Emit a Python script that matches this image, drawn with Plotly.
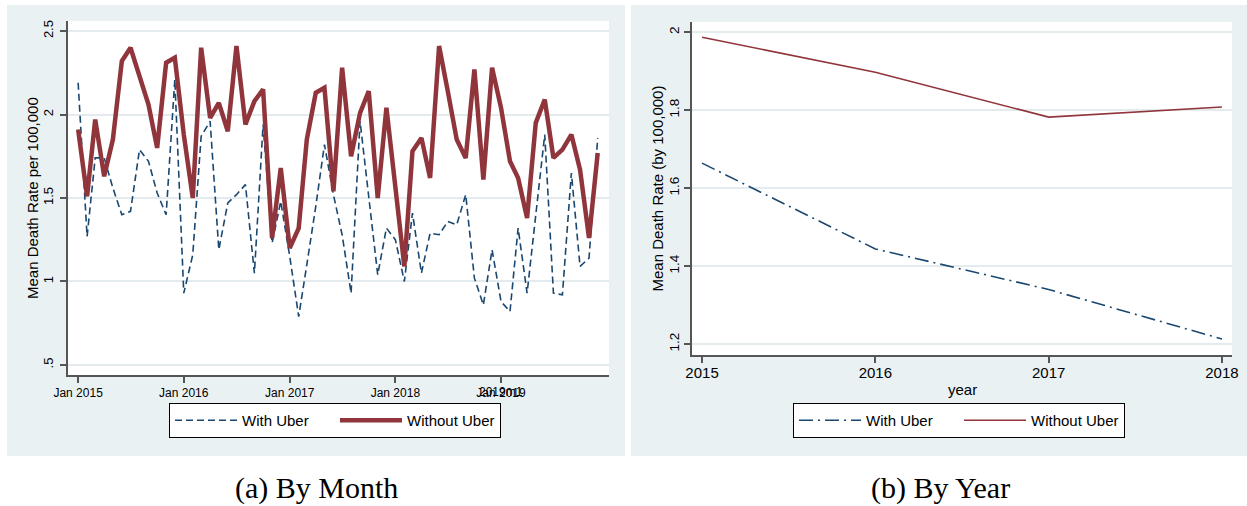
import plotly.graph_objects as go
import pandas as pd

# ---- monthly series (Jan 2015 - Dec 2019) ----
months = pd.date_range("2015-01-01", periods=60, freq="MS")
with_uber_month = [
    2.19, 1.27, 1.74, 1.74, 1.56, 1.40, 1.42, 1.79, 1.72, 1.53, 1.40, 2.21,
    0.93, 1.16, 1.87, 1.96, 1.19, 1.47, 1.52, 1.58, 1.05, 1.94, 1.23, 1.48,
    1.15, 0.79, 1.10, 1.45, 1.82, 1.52, 1.28, 0.93, 1.96, 1.51, 1.04, 1.32,
    1.25, 1.00, 1.41, 1.05, 1.29, 1.28, 1.36, 1.34, 1.52, 1.02, 0.86, 1.19,
    0.88, 0.82, 1.32, 0.93, 1.40, 1.88, 0.93, 0.92, 1.65, 1.09, 1.14, 1.86,
]
without_uber_month = [
    1.91, 1.51, 1.97, 1.63, 1.85, 2.32, 2.40, 2.22, 2.06, 1.80, 2.31, 2.34,
    1.88, 1.50, 2.40, 1.98, 2.07, 1.90, 2.41, 1.94, 2.08, 2.15, 1.26, 1.68,
    1.20, 1.32, 1.85, 2.13, 2.16, 1.54, 2.28, 1.75, 2.01, 2.14, 1.50, 2.04,
    1.55, 1.09, 1.78, 1.86, 1.62, 2.41, 2.14, 1.85, 1.74, 2.27, 1.61, 2.28,
    2.04, 1.72, 1.62, 1.38, 1.95, 2.09, 1.74, 1.79, 1.88, 1.67, 1.26, 1.77,
]
month_tick_dates = ["2015-01-01", "2016-01-01", "2017-01-01", "2018-01-01", "2019-01-01"]
month_tick_text = ["Jan 2015", "Jan 2016", "Jan 2017", "Jan 2018", "Jan 2019"]
month_y_ticks = [0.5, 1.0, 1.5, 2.0, 2.5]
month_y_text = [".5", "1", "1.5", "2", "2.5"]

# ---- yearly series ----
years = [2015, 2016, 2017, 2018]
with_uber_year = [1.664, 1.444, 1.340, 1.213]
without_uber_year = [1.987, 1.897, 1.782, 1.808]
year_y_ticks = [1.2, 1.4, 1.6, 1.8, 2.0]
year_y_text = ["1.2", "1.4", "1.6", "1.8", "2"]

NAVY = "#1A476F"
MAROON = "#90353B"
PANEL = "#EAF1F3"
GRID = "#E3EBEE"
AXIS = "#555555"
SANS = "Liberation Sans, Arial, sans-serif"
SERIF = "Liberation Serif, Times New Roman, serif"

W, H = 1247, 506


def px(x):
    return x / W


def py(y):
    return 1 - y / H


fig = go.Figure()

fig.add_trace(go.Scatter(
    x=months, y=with_uber_month, mode="lines", name="With Uber",
    line=dict(color=NAVY, width=1.6, dash="7px,4px"),
    xaxis="x", yaxis="y", legend="legend",
))
fig.add_trace(go.Scatter(
    x=months, y=without_uber_month, mode="lines", name="Without Uber",
    line=dict(color=MAROON, width=4.5),
    xaxis="x", yaxis="y", legend="legend",
))
fig.add_trace(go.Scatter(
    x=years, y=with_uber_year, mode="lines", name="With Uber",
    line=dict(color=NAVY, width=1.6, dash="14px,5px,2px,5px"),
    xaxis="x2", yaxis="y2", legend="legend2",
))
fig.add_trace(go.Scatter(
    x=years, y=without_uber_year, mode="lines", name="Without Uber",
    line=dict(color=MAROON, width=1.6),
    xaxis="x2", yaxis="y2", legend="legend2",
))

axis_common = dict(
    showline=True, linecolor=AXIS, linewidth=2,
    ticks="outside", ticklen=6, tickwidth=1.5, tickcolor=AXIS,
    zeroline=False, fixedrange=True, automargin=False,
)

legend_common = dict(
    orientation="h", xanchor="left", yanchor="top",
    bordercolor="black", borderwidth=1, bgcolor="white",
    font=dict(family=SANS, size=15, color="black"),
    itemwidth=62, entrywidth=88, entrywidthmode="pixels",
    traceorder="normal",
)

shapes = [
    # background panels
    dict(type="rect", xref="paper", yref="paper", x0=px(7), x1=px(625), y0=py(456), y1=py(5),
         fillcolor=PANEL, line=dict(width=0), layer="below"),
    dict(type="rect", xref="paper", yref="paper", x0=px(631), x1=1, y0=py(456), y1=py(5),
         fillcolor=PANEL, line=dict(width=0), layer="below"),
    # white plot regions
    dict(type="rect", xref="paper", yref="paper", x0=px(68), x1=px(609), y0=py(375), y1=py(21),
         fillcolor="white", line=dict(width=0), layer="below"),
    dict(type="rect", xref="paper", yref="paper", x0=px(692), x1=px(1232), y0=py(355), y1=py(22),
         fillcolor="white", line=dict(width=0), layer="below"),
]


def label(text, x, y, size, family=SANS, angle=0, xref="paper"):
    return dict(text=text, xref=xref, yref="paper", x=x, y=y, textangle=angle,
                xanchor="center", yanchor="middle", showarrow=False,
                font=dict(family=family, size=size, color="black"))


annotations = [
    label("Mean Death Rate per 100,000", px(33), py(198), 15, angle=-90),
    label("Mean Death Rate (by 100,000)", px(657), py(188.5), 15, angle=-90),
    label("year", px(962), py(389), 15),
    label("2019m1", "2019-01-01", py(392), 12, xref="x"),
    label("(a) By Month", px(316), py(488), 30, family=SERIF),
    label("(b) By Year", px(940), py(488), 30, family=SERIF),
]

fig.update_layout(
    width=W, height=H,
    margin=dict(l=0, r=0, t=0, b=0, autoexpand=False),
    paper_bgcolor="white", plot_bgcolor="white",
    font=dict(family=SANS, color="black"),
    xaxis=dict(
        domain=[px(68), px(609)], anchor="y",
        type="date", range=["2014-11-27", "2020-01-09"],
        tickvals=month_tick_dates, ticktext=month_tick_text,
        tickfont=dict(size=12), showgrid=False, **axis_common,
    ),
    yaxis=dict(
        domain=[py(375), py(21)], anchor="x",
        range=[0.44, 2.56], tickvals=month_y_ticks, ticktext=month_y_text,
        tickangle=-90, tickfont=dict(size=13), ticklabelstandoff=2,
        showgrid=True, gridcolor=GRID, gridwidth=1.5, **axis_common,
    ),
    xaxis2=dict(
        domain=[px(692), px(1232)], anchor="y2",
        range=[2014.942, 2018.058], tickvals=years,
        tickfont=dict(size=15), ticklabelstandoff=-3, showgrid=False, **axis_common,
    ),
    yaxis2=dict(
        domain=[py(355), py(22)], anchor="x2",
        range=[1.172, 2.026], tickvals=year_y_ticks, ticktext=year_y_text,
        tickangle=-90, tickfont=dict(size=13.5),
        showgrid=True, gridcolor=GRID, gridwidth=1.5, **axis_common,
    ),
    legend=dict(x=px(169), y=py(403), **legend_common),
    legend2=dict(x=px(793), y=py(403), **legend_common),
    shapes=shapes,
    annotations=annotations,
    showlegend=True,
)

fig.write_html("out.html")
